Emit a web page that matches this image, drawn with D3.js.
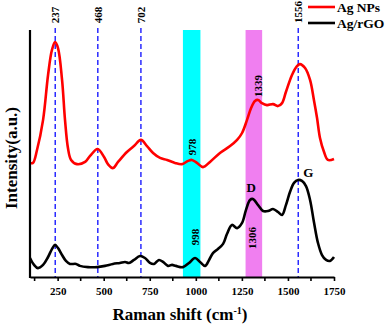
<!DOCTYPE html>
<html>
<head>
<meta charset="utf-8">
<script src="https://cdn.jsdelivr.net/npm/d3@7"></script>
<style>
  body { margin: 0; background: #fff; }
  svg { display: block; font-family: "Liberation Serif", "Times New Roman", serif; font-weight: bold; }
</style>
</head>
<body>
<svg id="chart" width="387" height="325"></svg>
<script>
// Raman shift (cm-1) vs intensity (arbitrary units, offset traces)
const agNPsShift = [100, 116, 138, 171, 198, 219, 236, 252, 274, 290, 306, 323, 355, 399, 426, 467, 502, 523, 550, 578, 626, 664, 702, 735, 768, 806, 844, 887, 925, 958, 979, 1006, 1039, 1077, 1131, 1186, 1224, 1251, 1278, 1300, 1321, 1338, 1359, 1386, 1419, 1446, 1468, 1489, 1522, 1549, 1565, 1593, 1620, 1641, 1658, 1674, 1696, 1717, 1750];
const agNPsInt = [46.2, 46.2, 51.4, 63.6, 81.8, 91.9, 95.1, 92.7, 79.8, 63.6, 52.2, 47.4, 45.7, 46.6, 49, 51.8, 48.6, 45.7, 44.1, 46.6, 50.6, 53, 55.5, 53, 50.2, 48.2, 47.4, 46.2, 45.7, 47, 47.4, 46.2, 44.5, 46.6, 50.2, 53, 55.5, 58.3, 63.6, 68.4, 71.3, 71.7, 70.4, 69.6, 70, 69.2, 70.4, 74.9, 81.8, 85.4, 86.2, 84.6, 79.8, 71.7, 64.4, 56.3, 50.6, 47.4, 47.8];

const agrGOShift = [100, 122, 143, 171, 198, 219, 236, 252, 274, 295, 317, 350, 371, 415, 464, 507, 550, 588, 616, 637, 664, 697, 724, 751, 773, 800, 822, 849, 871, 892, 930, 963, 996, 1023, 1050, 1072, 1093, 1120, 1148, 1169, 1196, 1224, 1251, 1272, 1294, 1310, 1338, 1365, 1392, 1419, 1446, 1468, 1489, 1511, 1533, 1555, 1576, 1598, 1620, 1641, 1663, 1685, 1707, 1728, 1750];
const agrGOInt = [7.7, 4.9, 3.6, 4.9, 8.1, 11.3, 13, 11.7, 8.9, 6.5, 5.3, 5.3, 4.5, 4, 4, 4.5, 5.3, 5.7, 6.1, 5.7, 6.9, 8.5, 7.7, 5.7, 5.3, 6.9, 6.1, 4.5, 4.9, 4.5, 4, 5.7, 7.7, 6.1, 4.5, 6.9, 9.7, 11.3, 13.4, 17.4, 21.1, 19.8, 21.9, 27.1, 31.2, 31.6, 29.1, 26.7, 26.7, 27.5, 26.3, 25.1, 29.1, 34.4, 38.1, 39.3, 38.9, 36.8, 31.2, 22.3, 13.8, 8.9, 6.9, 6.5, 8.1];

const seriesNames = ["Ag NPs", "Ag/rGO"];
const seriesColors = ["#ff0000", "#000000"];

const dashedPeaks = ["237", "468", "702", "1556"];
const bands = [[930, 1025], [1270, 1360]];
const bandColors = ["#00ffff", "#f07ff0"];

const xTicks = [250, 500, 750, 1000, 1250, 1500, 1750];
const xMinorTicks = [125, 375, 625, 875, 1125, 1375, 1625];

let margin = {top: 30, right: 53, bottom: 48, left: 30},
    width = 387 - margin.left - margin.right,
    height = 325 - margin.top - margin.bottom,
    x = d3.scaleLinear().domain([100, 1750]).range([0, width]),
    y = d3.scaleLinear().domain([0, 100]).range([height, 0]),
    svg = d3.select("#chart"),
    g = svg.append("g").attr("transform", "translate(" + margin.left + "," + margin.top + ")");

// highlight bands
g.selectAll(".band")
    .data(bands)
    .enter().append("rect")
    .attr("class", "band")
    .attr("x", d => x(d[0]))
    .attr("y", 0)
    .attr("width", d => x(d[1]) - x(d[0]))
    .attr("height", height)
    .style("fill", (d, i) => bandColors[i]);

// dashed peak markers
g.selectAll(".peak")
    .data(dashedPeaks)
    .enter().append("line")
    .attr("x1", d => x(+d))
    .attr("x2", d => x(+d))
    .attr("y1", -2)
    .attr("y2", height)
    .style("stroke", "#2b2bff")
    .style("stroke-width", 1.5)
    .style("stroke-dasharray", "5,3");

let line = d3.line()
    .x(d => x(d[0]))
    .y(d => y(d[1]))
    .curve(d3.curveCatmullRom.alpha(0.5));

[[agNPsShift, agNPsInt], [agrGOShift, agrGOInt]].forEach((s, i) => {
    g.append("path")
        .datum(d3.zip(s[0], s[1]))
        .attr("d", line)
        .style("fill", "none")
        .style("stroke", seriesColors[i])
        .style("stroke-width", 2.6)
        .style("stroke-linejoin", "round");
});

// axes
let xAxis = g.append("g")
    .attr("transform", "translate(0," + height + ")")
    .call(d3.axisBottom(x).tickValues(xTicks).tickFormat(d3.format("d")).tickSize(4).tickSizeOuter(0).tickPadding(6));
xAxis.selectAll(".tick text").style("font-size", "11px").style("font-weight", "bold").style("font-family", "Liberation Serif, serif");
xAxis.select(".domain").style("stroke-width", 2.2);
xAxis.selectAll(".tick line").style("stroke-width", 1.6);
xAxis.selectAll(".minor")
    .data(xMinorTicks)
    .enter().append("line")
    .attr("class", "minor")
    .attr("x1", d => x(d))
    .attr("x2", d => x(d))
    .attr("y1", 0)
    .attr("y2", 4)
    .style("stroke", "#000")
    .style("stroke-width", 1.6);

g.append("line")
    .attr("x1", 0).attr("x2", 0)
    .attr("y1", 0).attr("y2", height + 1)
    .style("stroke", "#000")
    .style("stroke-width", 2.2);

// axis titles
let xt = svg.append("text")
    .attr("x", 180)
    .attr("y", 320)
    .attr("text-anchor", "middle")
    .style("font-size", "17px");
xt.append("tspan").text("Raman shift (cm");
xt.append("tspan").attr("dy", -6).style("font-size", "10px").text("-1");
xt.append("tspan").attr("dy", 6).text(")");

svg.append("text")
    .attr("transform", "translate(17,158) rotate(-90)")
    .attr("text-anchor", "middle")
    .style("font-size", "17px")
    .text("Intensity(a.u.)");

// rotated peak labels
const rotLabels = [
    ["237", x(237), -15], ["468", x(468), -15], ["702", x(702), -15], ["1556", x(1556), -18],
    ["978", x(978), 117], ["1339", x(1339), 56], ["998", x(998), 207], ["1306", x(1306), 208]
];
g.selectAll(".rlab")
    .data(rotLabels)
    .enter().append("text")
    .attr("transform", d => "translate(" + d[1] + "," + d[2] + ") rotate(-90)")
    .attr("text-anchor", "middle")
    .attr("dy", "0.35em")
    .style("font-size", "11px")
    .text(d => d[0]);

g.append("text").attr("x", x(1300)).attr("y", 162).attr("text-anchor", "middle").style("font-size", "13px").text("D");
g.append("text").attr("x", x(1610)).attr("y", 147).attr("text-anchor", "middle").style("font-size", "13px").text("G");

// legend
let legend = svg.selectAll(".legend")
    .data(seriesNames)
    .enter().append("g")
    .attr("class", "legend")
    .attr("transform", (d, i) => "translate(308," + (7 + i * 16) + ")");

legend.append("line")
    .attr("x1", 0).attr("x2", 27)
    .style("stroke", (d, i) => seriesColors[i])
    .style("stroke-width", 2.6);

legend.append("text")
    .attr("x", 29)
    .attr("dy", "0.35em")
    .style("font-size", "13.5px")
    .text(d => d);
</script>
</body>
</html>
